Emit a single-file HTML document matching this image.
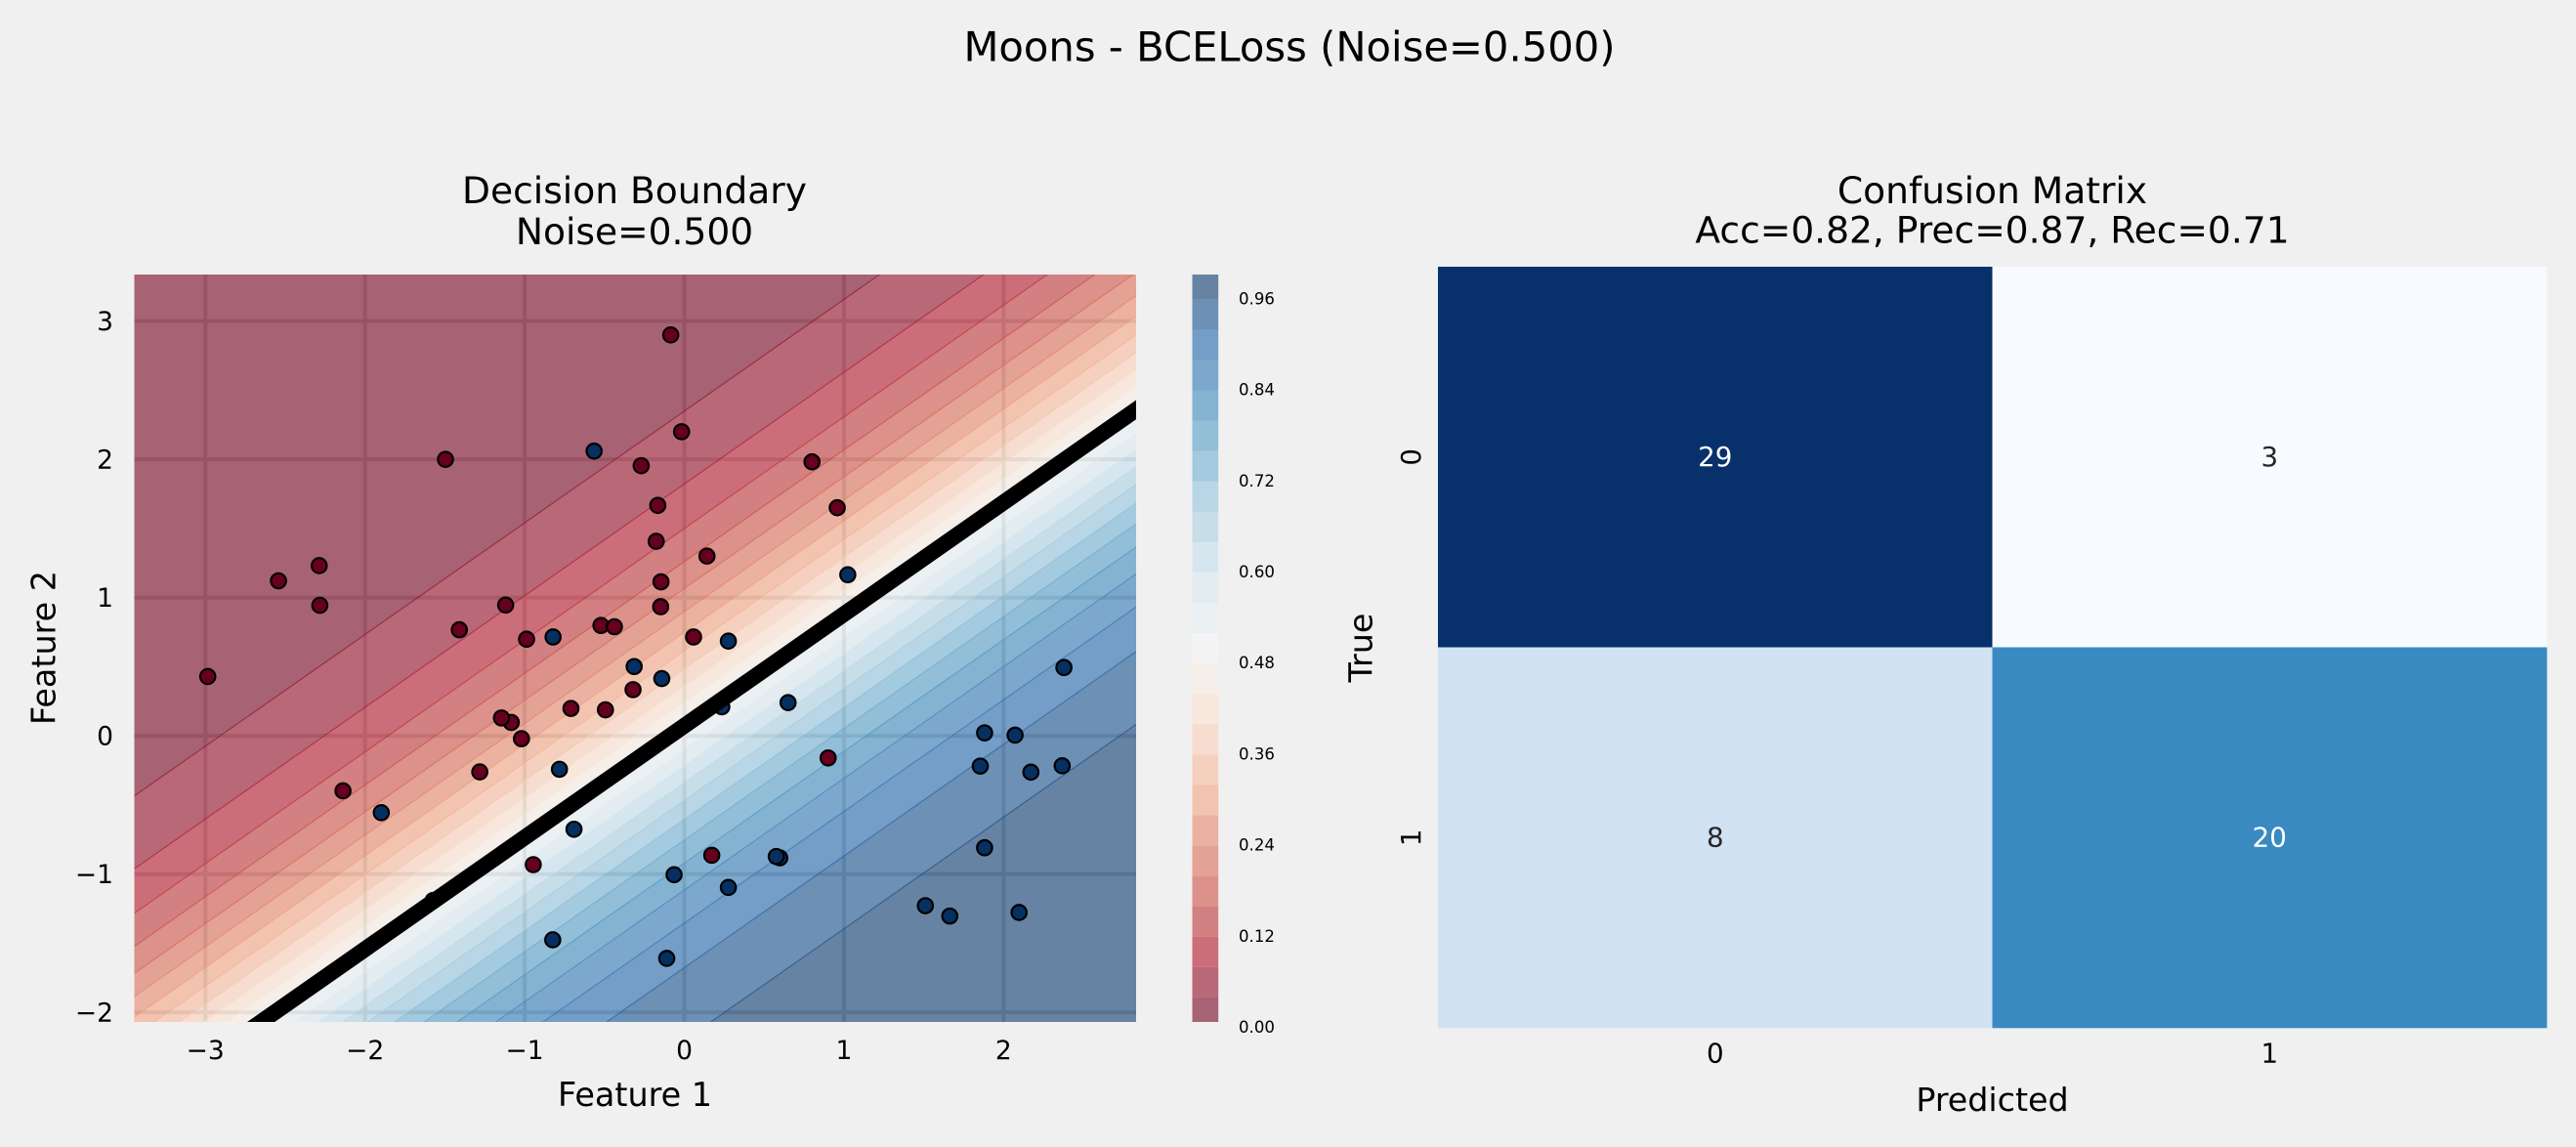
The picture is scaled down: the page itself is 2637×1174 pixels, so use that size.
<!DOCTYPE html>
<html lang="en">
<head>
<meta charset="utf-8">
<title>Moons - BCELoss (Noise=0.500)</title>
<style>
html,body{margin:0;padding:0;background:#f0f0f0;width:2637px;height:1174px;overflow:hidden;}
svg{display:block;overflow:hidden;}
text{font-family:"DejaVu Sans","Liberation Sans",sans-serif;fill:#000;}
</style>
</head>
<body>
<svg id="fig" xmlns="http://www.w3.org/2000/svg" width="2637" height="1174" viewBox="0 0 2637 1174">
  <rect x="0" y="0" width="2637" height="1174" fill="#f0f0f0"/>
  <defs>
    <clipPath id="plot-clip"><rect x="137.5" y="281" width="1025.5" height="765"/></clipPath>
    <clipPath id="cbar-clip"><rect x="1220.5" y="281" width="26.8" height="765"/></clipPath>
  </defs>
  <text x="1320" y="62.5" font-size="41.7" text-anchor="middle">Moons - BCELoss (Noise=0.500)</text>
  <text x="649.5" y="208" font-size="37.6" text-anchor="middle">Decision Boundary</text>
  <text x="649.5" y="250" font-size="37.6" text-anchor="middle">Noise=0.500</text>
  <text x="2039.5" y="208" font-size="37.6" text-anchor="middle">Confusion Matrix</text>
  <text x="2039.5" y="248.5" font-size="37.6" text-anchor="middle">Acc=0.82, Prec=0.87, Rec=0.71</text>
  <text x="650" y="1132" font-size="33.4" text-anchor="middle">Feature 1</text>
  <text x="0" y="0" font-size="33.4" text-anchor="middle" transform="translate(56.5 663) rotate(-90)">Feature 2</text>
  <text x="2039.5" y="1137" font-size="33.3" text-anchor="middle">Predicted</text>
  <text x="0" y="0" font-size="33.3" text-anchor="middle" transform="translate(1404.5 663) rotate(-90)">True</text>
  <g id="grid-layer"></g>
  <g id="band-layer" clip-path="url(#plot-clip)"></g>
  <g id="line-layer" clip-path="url(#plot-clip)"></g>
  <g id="point-layer"></g>
  <g id="boundary-layer" clip-path="url(#plot-clip)"></g>
  <g id="tick-layer"></g>
  <g id="cbar-layer" clip-path="url(#cbar-clip)"></g>
  <g id="cbar-tick-layer"></g>
  <g id="matrix-layer"></g>
</svg>
<script>
const xTicks = [-3, -2, -1, 0, 1, 2];
const yTicks = [-2, -1, 0, 1, 2, 3];
const xLimits = [-3.445, 2.83];
const yLimits = [-2.07, 3.337];
const modelWeights = [1.128, -1.396];
const modelBias = [0.101];
const contourLevels = [0, 0.04, 0.08, 0.12, 0.16, 0.2, 0.24, 0.28, 0.32, 0.36, 0.4, 0.44, 0.48, 0.52, 0.56, 0.6, 0.64, 0.68, 0.72, 0.76, 0.8, 0.84, 0.88, 0.92, 0.96, 1];
const boundaryLevels = [0.5];
const colorbarTicks = [0, 0.12, 0.24, 0.36, 0.48, 0.6, 0.72, 0.84, 0.96];
const class0X = [-0.085, -0.017, -1.496, -0.27, -0.166, -0.176, -0.146, -0.148, -2.287, -2.542, -2.283, -1.119, -1.409, -0.988, -0.522, -0.438, 0.8, 0.958, 0.142, 0.058, -2.985, -1.084, -1.145, -1.02, -0.71, -0.494, -0.321, -1.281, -2.138, -0.946, 0.901, 0.172];
const class0Y = [2.9, 2.2, 2.0, 1.954, 1.667, 1.407, 1.114, 0.934, 1.231, 1.121, 0.944, 0.946, 0.767, 0.699, 0.798, 0.789, 1.982, 1.65, 1.3, 0.715, 0.429, 0.097, 0.129, -0.021, 0.198, 0.188, 0.334, -0.261, -0.398, -0.932, -0.16, -0.864];
const class1X = [-0.565, -0.822, 1.024, 0.276, -0.314, -0.141, -1.898, -0.782, -0.691, -0.064, -0.824, -0.11, -1.573, 2.378, 0.65, 0.235, 1.881, 2.072, 1.854, 2.171, 2.367, 1.881, 1.51, 1.663, 2.097, 0.598, 0.576, 0.276];
const class1Y = [2.06, 0.715, 1.165, 0.685, 0.501, 0.414, -0.556, -0.242, -0.676, -1.005, -1.476, -1.61, -1.191, 0.494, 0.24, 0.21, 0.021, 0.005, -0.219, -0.263, -0.217, -0.81, -1.229, -1.304, -1.278, -0.883, -0.873, -1.097];
const matrixLabels = ["0", "1"];
const matrixRow0 = [29, 3];
const matrixRow1 = [8, 20];

const NS = "http://www.w3.org/2000/svg";
const RDBU = [[103,0,31],[178,24,43],[214,96,77],[244,165,130],[253,219,199],[247,247,247],[209,229,240],[146,197,222],[67,147,195],[33,102,172],[5,48,97]];
const BLUES = [[247,251,255],[222,235,247],[198,219,239],[158,202,225],[107,174,214],[66,146,198],[33,113,181],[8,81,156],[8,48,107]];

function ramp(stops, t) {
  const p = Math.max(0, Math.min(1, t)) * (stops.length - 1);
  const i = Math.min(Math.floor(p), stops.length - 2);
  const f = p - i;
  const c = [0, 1, 2].map(function (k) { return Math.round(stops[i][k] + (stops[i + 1][k] - stops[i][k]) * f); });
  return "rgb(" + c.join(",") + ")";
}
function make(tag, parent, attrs) {
  const el = document.createElementNS(NS, tag);
  Object.keys(attrs).forEach(function (k) { el.setAttribute(k, attrs[k]); });
  parent.appendChild(el);
  return el;
}
function fmtTick(v) { return v < 0 ? "\u2212" + Math.abs(v) : String(v); }

const PLOT = { left: 137.5, right: 1163, top: 281, bottom: 1046 };
function sx(v) { return PLOT.left + (v - xLimits[0]) / (xLimits[1] - xLimits[0]) * (PLOT.right - PLOT.left); }
function sy(v) { return PLOT.bottom - (v - yLimits[0]) / (yLimits[1] - yLimits[0]) * (PLOT.bottom - PLOT.top); }
function logit(p) {
  const q = Math.max(1e-6, Math.min(1 - 1e-6, p));
  return Math.log(q / (1 - q));
}
/* y value on the iso-probability line for level p at feature-1 value x */
function isoY(p, x) { return (logit(p) - modelBias[0] - modelWeights[0] * x) / modelWeights[1]; }
function isoEnds(p) {
  const xa = xLimits[0] - 1, xb = xLimits[1] + 1;
  return [[sx(xa), sy(isoY(p, xa))], [sx(xb), sy(isoY(p, xb))]];
}
/* keep geometry inside the plot box so nothing extends past the frame */
function clipPolygon(pts, r) {
  const edges = [
    { inside: function (p) { return p[0] >= r.left; }, cut: function (a, b) { const t = (r.left - a[0]) / (b[0] - a[0]); return [r.left, a[1] + t * (b[1] - a[1])]; } },
    { inside: function (p) { return p[0] <= r.right; }, cut: function (a, b) { const t = (r.right - a[0]) / (b[0] - a[0]); return [r.right, a[1] + t * (b[1] - a[1])]; } },
    { inside: function (p) { return p[1] >= r.top; }, cut: function (a, b) { const t = (r.top - a[1]) / (b[1] - a[1]); return [a[0] + t * (b[0] - a[0]), r.top]; } },
    { inside: function (p) { return p[1] <= r.bottom; }, cut: function (a, b) { const t = (r.bottom - a[1]) / (b[1] - a[1]); return [a[0] + t * (b[0] - a[0]), r.bottom]; } }
  ];
  let out = pts;
  edges.forEach(function (e) {
    const res = [];
    out.forEach(function (cur, i) {
      const prev = out[(i + out.length - 1) % out.length];
      const ci = e.inside(cur), pi = e.inside(prev);
      if (ci !== pi) res.push(e.cut(prev, cur));
      if (ci) res.push(cur);
    });
    out = res;
  });
  return out;
}
function clipSegment(a, b, r) {
  let t0 = 0, t1 = 1;
  const dx = b[0] - a[0], dy = b[1] - a[1];
  const tests = [[-dx, a[0] - r.left], [dx, r.right - a[0]], [-dy, a[1] - r.top], [dy, r.bottom - a[1]]];
  for (let i = 0; i < 4; i++) {
    const p = tests[i][0], q = tests[i][1];
    if (p === 0) { if (q < 0) return null; continue; }
    const t = q / p;
    if (p < 0) { if (t > t1) return null; if (t > t0) t0 = t; }
    else { if (t < t0) return null; if (t < t1) t1 = t; }
  }
  return [[a[0] + t0 * dx, a[1] + t0 * dy], [a[0] + t1 * dx, a[1] + t1 * dy]];
}
const LINE_BOX = { left: PLOT.left - 30, right: PLOT.right + 30, top: PLOT.top - 30, bottom: PLOT.bottom + 30 };

const gridLayer = document.getElementById("grid-layer");
const bandLayer = document.getElementById("band-layer");
const lineLayer = document.getElementById("line-layer");
const pointLayer = document.getElementById("point-layer");
const boundaryLayer = document.getElementById("boundary-layer");
const tickLayer = document.getElementById("tick-layer");
const cbarLayer = document.getElementById("cbar-layer");
const cbarTickLayer = document.getElementById("cbar-tick-layer");
const matrixLayer = document.getElementById("matrix-layer");

/* grid + tick labels */
xTicks.forEach(function (v) {
  const g = make("line", gridLayer, { x1: sx(v), x2: sx(v), y1: PLOT.top, y2: PLOT.bottom, stroke: "#cbcbcb", "stroke-width": 4 });
  
  
  const t = make("text", tickLayer, { x: sx(v), y: 1084, "font-size": 26.5, "text-anchor": "middle" });
  t.textContent = fmtTick(v);
  
  
});
yTicks.forEach(function (v) {
  const g = make("line", gridLayer, { x1: PLOT.left, x2: PLOT.right, y1: sy(v), y2: sy(v), stroke: "#cbcbcb", "stroke-width": 4 });
  
  
  const t = make("text", tickLayer, { x: 116, y: sy(v) + 9.5, "font-size": 26.5, "text-anchor": "end" });
  t.textContent = fmtTick(v);
  
  
});

/* probability bands and their edge lines */
for (let i = 0; i < contourLevels.length - 1; i++) {
  const lo = contourLevels[i], hi = contourLevels[i + 1];
  const a = isoEnds(lo), b = isoEnds(hi);
  const poly = clipPolygon([a[0], a[1], b[1], b[0]], PLOT);
  if (poly.length < 3) continue;
  const pts = poly.map(function (p) { return p[0].toFixed(2) + "," + p[1].toFixed(2); }).join(" ");
  const band = make("polygon", bandLayer, { points: pts, fill: ramp(RDBU, (lo + hi) / 2), "fill-opacity": 0.6 });
  
  
}
contourLevels.slice(1, -1).forEach(function (lv) {
  const e = isoEnds(lv);
  const s = clipSegment(e[0], e[1], PLOT);
  if (!s) return;
  const ln = make("line", lineLayer, { x1: s[0][0], y1: s[0][1], x2: s[1][0], y2: s[1][1], stroke: ramp(RDBU, lv), "stroke-opacity": 0.6, "stroke-width": 1.2 });
  
  
});

/* scatter */
function drawPoints(xs, ys, fill, name) {
  xs.forEach(function (x, i) {
    const c = make("circle", pointLayer, { cx: sx(x), cy: sy(ys[i]), r: 7.7, fill: fill, stroke: "#000", "stroke-width": 2.2 });
    
    
  });
}
drawPoints(class0X, class0Y, "#67001f", "class-0-point");
drawPoints(class1X, class1Y, "#053061", "class-1-point");

/* decision boundary */
boundaryLevels.forEach(function (lv) {
  const e = isoEnds(lv);
  const s = clipSegment(e[0], e[1], LINE_BOX);
  if (!s) return;
  const ln = make("line", boundaryLayer, { x1: s[0][0], y1: s[0][1], x2: s[1][0], y2: s[1][1], stroke: "#000", "stroke-width": 16.2 });
  
  
});

/* colorbar */
function cbarY(v) { return 1052 - 776.7 * v; }
for (let i = 0; i < contourLevels.length - 1; i++) {
  const lo = contourLevels[i], hi = contourLevels[i + 1];
  const yTop = Math.max(281, cbarY(hi)), yBottom = Math.min(1046, cbarY(lo));
  const seg = make("rect", cbarLayer, { x: 1220.5, width: 26.8, y: yTop, height: yBottom - yTop, fill: ramp(RDBU, (lo + hi) / 2), "fill-opacity": 0.6 });
  
  
}
colorbarTicks.forEach(function (v) {
  const t = make("text", cbarTickLayer, { x: 1268, y: cbarY(v) + 5, "font-size": 16.6 });
  t.textContent = v.toFixed(2);
  
  
});

/* confusion matrix */
const MAT = { left: 1472, top: 273, cw: 567.5, ch: 389.5 };
const matrixRows = [matrixRow0, matrixRow1];
const allVals = matrixRow0.concat(matrixRow1);
const vMin = Math.min.apply(null, allVals), vMax = Math.max.apply(null, allVals);
matrixRows.forEach(function (row, r) {
  row.forEach(function (v, c) {
    const t = (v - vMin) / (vMax - vMin);
    const x = MAT.left + c * MAT.cw, y = MAT.top + r * MAT.ch;
    const cell = make("rect", matrixLayer, { x: x, y: y, width: MAT.cw + 0.3, height: MAT.ch + 0.3, fill: ramp(BLUES, t) });
    
    
    const lab = make("text", matrixLayer, { x: x + MAT.cw / 2, y: y + MAT.ch / 2 + 9, "font-size": 27.7, "text-anchor": "middle" });
    lab.textContent = String(v);
    lab.style.fill = t > 0.5 ? "#ffffff" : "#262626";
    
    
  });
});
matrixLabels.forEach(function (l, i) {
  const tx = make("text", matrixLayer, { x: MAT.left + (i + 0.5) * MAT.cw, y: 1087.5, "font-size": 27.7, "text-anchor": "middle" });
  tx.textContent = l;
  
  
  const ty = make("text", matrixLayer, { x: 0, y: 0, "font-size": 27.7, "text-anchor": "middle", transform: "translate(1454 " + (MAT.top + (i + 0.5) * MAT.ch) + ") rotate(-90)" });
  ty.textContent = l;
  
  
});
</script>
</body>
</html>
